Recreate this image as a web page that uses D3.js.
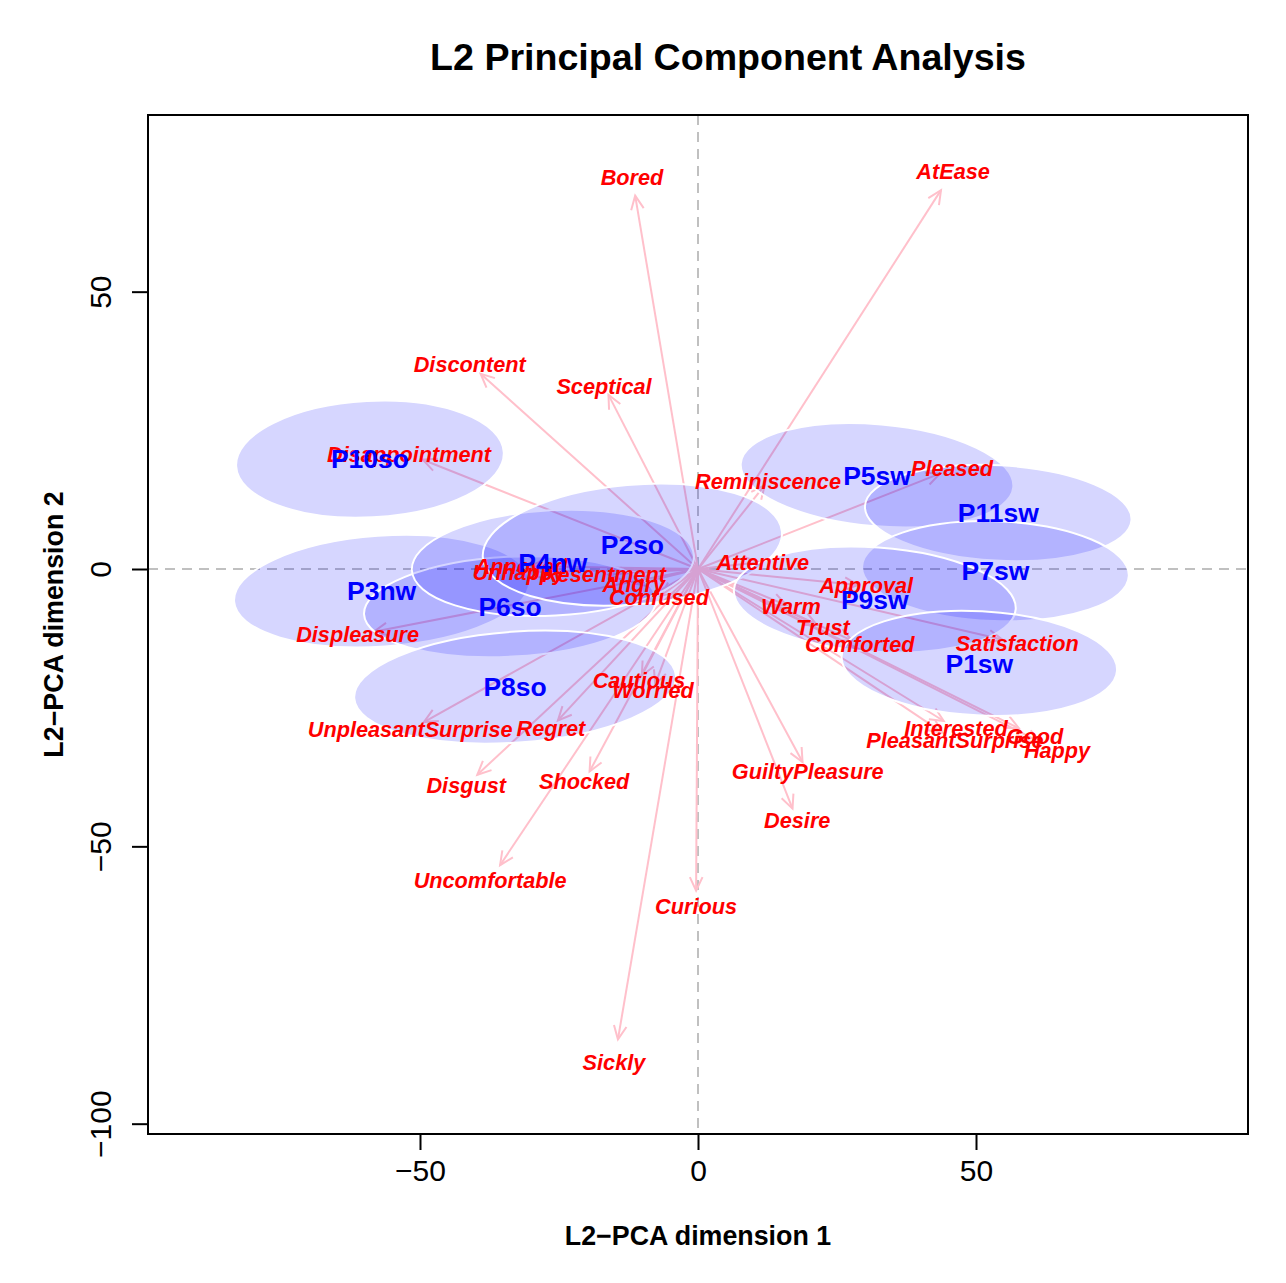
<!DOCTYPE html>
<html>
<head>
  <meta charset="utf-8">
  <title>L2 Principal Component Analysis</title>
  <script src="https://d3js.org/d3.v7.min.js"></script>
  <style>
    body { margin: 0; background: #fff; }
    text { font-family: "Liberation Sans", Arial, Helvetica, sans-serif; }
  </style>
</head>
<body>
<svg width="1286" height="1283"></svg>
<script>
// emotion variables (arrow tips)
var varNames = ["Bored","AtEase","Discontent","Sceptical","Disappointment","Reminiscence","Pleased",
  "Attentive","Approval","Warm","Trust","Comforted","Satisfaction","Interested","PleasantSurprise",
  "Good","Happy","GuiltyPleasure","Desire","Curious","Sickly","Uncomfortable","Shocked","Disgust",
  "Regret","UnpleasantSurprise","Cautious","Worried","Displeasure","Annoyed","Unhappy","Resentment",
  "Angry","Confused"];
var varX = [-11.3, 43.7, -39.1, -16.1, -49.5, 12.0, 43.5,
  11.1, 28.8, 15.9, 21.4, 27.7, 54.7, 44.2, 44.0,
  57.7, 61.5, 18.8, 17.0, -0.34, -14.4, -35.6, -19.5, -39.7,
  -25.2, -49.3, -10.1, -7.7, -58.3, -30.3, -30.7, -16.1,
  -11.0, -6.7];
var varY = [67.3, 68.3, 35.2, 31.4, 19.7, 15.1, 17.2,
  1.2, -2.9, -6.5, -10.1, -12.9, -12.7, -27.4, -29.5,
  -28.7, -31.2, -34.8, -43.2, -58.0, -84.8, -53.4, -36.5, -37.1,
  -27.3, -27.6, -19.2, -20.8, -11.3, 0.5, -0.5, -1.0,
  -2.7, -4.8];

// participants and their ellipses
var indNames = ["P10so","P3nw","P6so","P4nw","P2so","P8so","P5sw","P11sw","P7sw","P9sw","P1sw"];
var indX = [-59.0, -56.9, -33.8, -26.1, -11.8, -32.9, 32.2, 54.0, 53.5, 31.8, 50.6];
var indY = [19.8, -4.0, -6.8, 1.1, 4.4, -21.3, 16.9, 10.1, -0.4, -5.5, -17.0];
var ellRx = [24.1, 26.6, 26.3, 25.4, 27.0, 29.0, 24.6, 24.0, 24.0, 25.4, 24.8];
var ellRy = [10.5, 10.0, 9.0, 9.5, 10.8, 10.0, 9.2, 8.6, 9.0, 9.4, 9.4];
var ellAngle = [3, 4, 3, 3, 5, 4, -5, -3, -2, -4, -3];

var xTicks = [-50, 0, 50];
var yTicks = [-100, -50, 0, 50];

var svg = d3.select("svg");
var mLeft = 148, mRight = 1248, mTop = 115, mBottom = 1134;

var x = d3.scaleLinear().domain([-98.92, 98.92]).range([mLeft, mRight]);
var y = d3.scaleLinear().domain([-101.86, 81.85]).range([mBottom, mTop]);

var plot = svg.append("g");

// reference lines
plot.append("line")
  .attr("x1", x(0)).attr("x2", x(0)).attr("y1", mTop).attr("y2", mBottom)
  .attr("stroke", "#c0c0c0").attr("stroke-width", 2).attr("stroke-dasharray", "10,7");
plot.append("line")
  .attr("x1", mLeft).attr("x2", mRight).attr("y1", y(0)).attr("y2", y(0))
  .attr("stroke", "#c0c0c0").attr("stroke-width", 2).attr("stroke-dasharray", "10,7");

// arrows
var vars = varNames.map(function(n, i) { return {name: n, x: varX[i], y: varY[i]}; });
var ag = plot.append("g").attr("stroke", "#ffc0cb").attr("stroke-width", 2).attr("fill", "none");
vars.forEach(function(d) {
  var x0 = x(0), y0 = y(0), x1 = x(d.x), y1 = y(d.y);
  ag.append("line").attr("x1", x0).attr("y1", y0).attr("x2", x1).attr("y2", y1);
  var a = Math.atan2(y1 - y0, x1 - x0), len = 15, sp = 25 * Math.PI / 180;
  ag.append("path").attr("d",
    "M" + (x1 - len * Math.cos(a - sp)) + "," + (y1 - len * Math.sin(a - sp)) +
    "L" + x1 + "," + y1 +
    "L" + (x1 - len * Math.cos(a + sp)) + "," + (y1 - len * Math.sin(a + sp)));
});

// ellipses
var inds = indNames.map(function(n, i) {
  return {name: n, x: indX[i], y: indY[i], rx: ellRx[i], ry: ellRy[i], ang: ellAngle[i]};
});
plot.append("g").selectAll("ellipse").data(inds).enter().append("ellipse")
  .attr("transform", function(d) { return "translate(" + x(d.x) + "," + y(d.y) + ") rotate(" + (-d.ang) + ")"; })
  .attr("rx", function(d) { return x(d.rx) - x(0); })
  .attr("ry", function(d) { return y(0) - y(d.ry); })
  .attr("fill", "rgba(0,0,255,0.16)")
  .attr("stroke", "#fff").attr("stroke-width", 2);

// variable labels
plot.append("g").selectAll("text").data(vars).enter().append("text")
  .attr("x", function(d) { return x(d.x * 1.05); })
  .attr("y", function(d) { return y(d.y * 1.05); })
  .attr("dy", "0.35em")
  .attr("text-anchor", "middle")
  .attr("font-size", 21.7)
  .attr("font-weight", "bold")
  .attr("font-style", "italic")
  .attr("fill", "#ff0000")
  .text(function(d) { return d.name; });

// participant labels
plot.append("g").selectAll("text").data(inds).enter().append("text")
  .attr("x", function(d) { return x(d.x); })
  .attr("y", function(d) { return y(d.y); })
  .attr("dy", "0.35em")
  .attr("text-anchor", "middle")
  .attr("font-size", 26.5)
  .attr("font-weight", "bold")
  .attr("fill", "#0000ff")
  .text(function(d) { return d.name; });

// frame
svg.append("rect")
  .attr("x", mLeft).attr("y", mTop).attr("width", mRight - mLeft).attr("height", mBottom - mTop)
  .attr("fill", "none").attr("stroke", "#000").attr("stroke-width", 2);

// axes
var fmt = function(d) { return d < 0 ? "\u2212" + (-d) : d; };
var xa = svg.append("g").attr("transform", "translate(0," + mBottom + ")")
  .call(d3.axisBottom(x).tickValues(xTicks).tickSize(16).tickPadding(10).tickFormat(fmt));
xa.select(".domain").remove();
xa.selectAll("line").attr("stroke", "#000").attr("stroke-width", 2);
xa.selectAll("text").attr("font-size", 30).attr("fill", "#000").attr("font-family", "Liberation Sans, Arial, sans-serif");

var ya = svg.append("g").attr("transform", "translate(" + mLeft + ",0)")
  .call(d3.axisLeft(y).tickValues(yTicks).tickSize(16).tickFormat(fmt));
ya.select(".domain").remove();
ya.selectAll("line").attr("stroke", "#000").attr("stroke-width", 2);
ya.selectAll("text")
  .attr("transform", "rotate(-90)")
  .attr("x", 0).attr("y", -37).attr("dy", null)
  .attr("text-anchor", "middle")
  .attr("font-size", 30).attr("fill", "#000").attr("font-family", "Liberation Sans, Arial, sans-serif");

// titles
svg.append("text")
  .attr("x", 728).attr("y", 70)
  .attr("text-anchor", "middle").attr("font-size", 37.6).attr("font-weight", "bold")
  .text("L2 Principal Component Analysis");
svg.append("text")
  .attr("x", 698).attr("y", 1245)
  .attr("text-anchor", "middle").attr("font-size", 26.8).attr("font-weight", "bold")
  .text("L2\u2212PCA dimension 1");
svg.append("text")
  .attr("transform", "translate(63," + ((mTop + mBottom) / 2) + ") rotate(-90)")
  .attr("text-anchor", "middle").attr("font-size", 26.8).attr("font-weight", "bold")
  .text("L2\u2212PCA dimension 2");
</script>
</body>
</html>
